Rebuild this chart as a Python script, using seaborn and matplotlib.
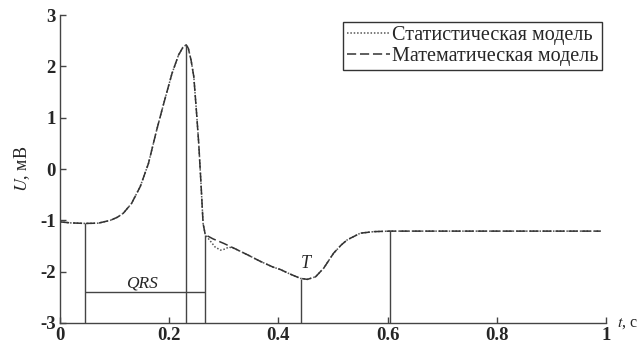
import matplotlib
matplotlib.use("Agg")
import matplotlib.pyplot as plt
import seaborn as sns
import pandas as pd

# ---- data ----
t_math = [0.0, 0.02, 0.046, 0.07, 0.092, 0.105, 0.116, 0.131, 0.147, 0.162, 0.177,
          0.19, 0.205, 0.217, 0.225, 0.231, 0.235, 0.24, 0.245, 0.25, 0.254, 0.258,
          0.262, 0.266, 0.28, 0.3, 0.32, 0.345, 0.367, 0.39, 0.404, 0.42, 0.44, 0.453,
          0.468, 0.483, 0.501, 0.515, 0.526, 0.55, 0.575, 0.604, 0.7, 0.8, 0.9, 0.99]
u_math = [-1.03, -1.05, -1.06, -1.055, -1.0, -0.94, -0.86, -0.67, -0.34, 0.11, 0.76,
          1.28, 1.86, 2.22, 2.37, 2.42, 2.35, 2.12, 1.8, 1.1, 0.5, -0.25,
          -1.06, -1.28, -1.36, -1.45, -1.55, -1.68, -1.8, -1.91, -1.96, -2.04, -2.13, -2.15,
          -2.1, -1.93, -1.64, -1.48, -1.38, -1.25, -1.22, -1.21, -1.21, -1.21, -1.21, -1.21]

t_stat = [0.0, 0.02, 0.046, 0.07, 0.092, 0.105, 0.116, 0.131, 0.147, 0.162, 0.177,
          0.19, 0.205, 0.217, 0.225, 0.231, 0.235, 0.24, 0.245, 0.25, 0.254, 0.258,
          0.262, 0.266, 0.275, 0.284, 0.294, 0.302, 0.309, 0.32, 0.345, 0.367, 0.39, 0.404,
          0.42, 0.44, 0.453, 0.468, 0.483, 0.501, 0.515, 0.526, 0.55, 0.575, 0.604, 0.7,
          0.8, 0.9, 0.99]
u_stat = [-1.03, -1.05, -1.06, -1.055, -1.0, -0.94, -0.86, -0.67, -0.34, 0.11, 0.76,
          1.28, 1.86, 2.22, 2.37, 2.42, 2.35, 2.12, 1.8, 1.1, 0.5, -0.25,
          -1.06, -1.28, -1.4, -1.52, -1.58, -1.56, -1.52, -1.55, -1.68, -1.8, -1.91, -1.96,
          -2.04, -2.13, -2.15, -2.1, -1.93, -1.64, -1.48, -1.38, -1.25, -1.22, -1.21, -1.21,
          -1.21, -1.21, -1.21]

marker_t = [0.046, 0.231, 0.266, 0.441, 0.604]
marker_top = [-1.06, 2.42, -1.28, -2.14, -1.21]
qrs_start, qrs_end, qrs_level = 0.046, 0.266, -2.4

legend_labels = ["Статистическая модель", "Математическая модель"]
x_ticks = [0, 0.2, 0.4, 0.6, 0.8, 1]
x_ticklabels = ["0", "0.2", "0.4", "0.6", "0.8", "1"]
y_ticks = [-3, -2, -1, 0, 1, 2, 3]
y_ticklabels = ["-3", "-2", "-1", "0", "1", "2", "3"]

# ---- styling ----
sns.set_style("ticks")
plt.rcParams["font.family"] = ["Liberation Serif", "DejaVu Serif"]
plt.rcParams["mathtext.fontset"] = "stix"

fig = plt.figure(figsize=(6.42, 3.46), dpi=100)
ax = fig.add_axes([0.0935, 0.0665, 0.8505, 0.89])

dark = "#333333"
df_stat = pd.DataFrame({"t": t_stat, "U": u_stat})
df_math = pd.DataFrame({"t": t_math, "U": u_math})
sns.lineplot(data=df_stat, x="t", y="U", ax=ax, color="#555555", lw=1.1,
             linestyle=(0, (1, 1.2)), label=legend_labels[0], sort=False)
sns.lineplot(data=df_math, x="t", y="U", ax=ax, color=dark, lw=1.1,
             linestyle=(0, (6, 2.5)), label=legend_labels[1], sort=False)

ax.vlines(marker_t, -3, marker_top, color="#444444", lw=1.0)
ax.hlines(qrs_level, qrs_start, qrs_end, color="#444444", lw=1.0)
ax.text(0.15, -2.24, "QRS", style="italic",
        ha="center", va="center", fontsize=12.5)
ax.text(0.451, -1.84, "T", style="italic", ha="center", va="center", fontsize=13)

ax.set_xlim(0, 1)
ax.set_ylim(-3, 3)
ax.set_xticks(x_ticks)
ax.set_xticklabels(x_ticklabels, fontsize=13.5, fontweight="bold")
ax.set_yticks(y_ticks)
ax.set_yticklabels(y_ticklabels, fontsize=13.5, fontweight="bold")
ax.tick_params(direction="in", length=4, width=1, color="#444444", pad=3)
ax.set_xlabel("")
ax.set_ylabel(r"$U$, мВ", fontsize=13, labelpad=6)
ax.text(1.02, 0.0, r"$t$, с", transform=ax.transAxes, fontsize=11.5,
        ha="left", va="center")

for s in ["top", "right"]:
    ax.spines[s].set_visible(False)
for s in ["left", "bottom"]:
    ax.spines[s].set_color("#444444")
    ax.spines[s].set_linewidth(1.0)

leg = ax.legend(loc="upper right", bbox_to_anchor=(0.993, 0.977), fontsize=14.5,
                frameon=True, fancybox=False, edgecolor="#333333", framealpha=1,
                handlelength=2.1, handletextpad=0.1, borderpad=0.2,
                labelspacing=0.1, borderaxespad=0)
leg.get_frame().set_linewidth(1.0)

fig.savefig("out.png", dpi=100)
